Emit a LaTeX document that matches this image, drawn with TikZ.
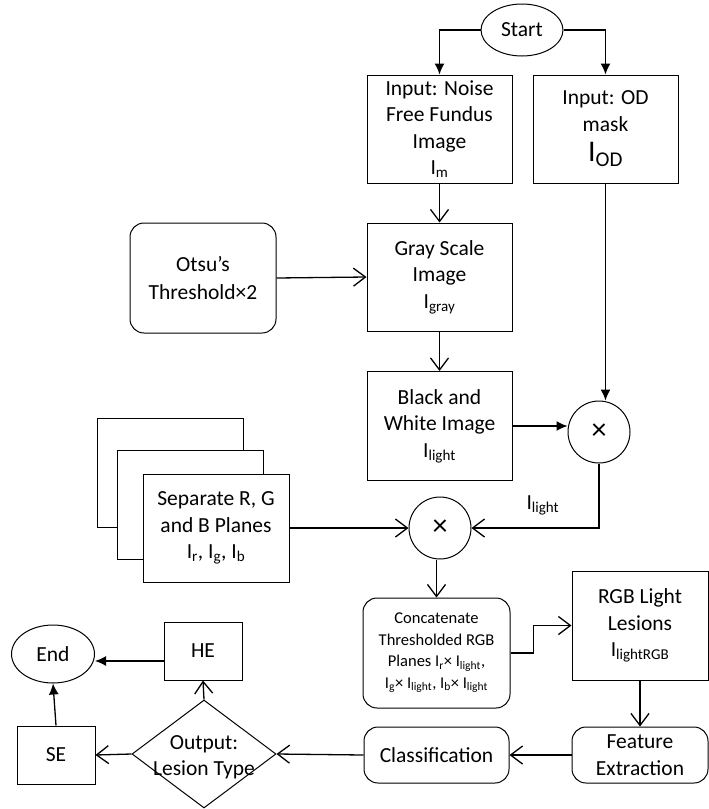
\documentclass[tikz,border=0pt]{standalone}
\usepackage{fontspec}
\setmainfont{Carlito}
\usetikzlibrary{shapes.geometric,arrows.meta,calc}
\newcommand\sbs[1]{\textsubscript{#1}}

\begin{document}
\begin{tikzpicture}[x=1pt,y=-1pt,
  every node/.style={font=\fontsize{21.5}{26.5}\selectfont, align=center, inner sep=0pt},
  box/.style={draw, line width=1pt, fill=white, minimum width=145pt, minimum height=108pt},
  rbox/.style={box, rounded corners=14pt},
  small/.style={minimum width=78pt, minimum height=58pt},
  oval/.style={draw, line width=1pt, ellipse},
  mult/.style={draw, line width=1pt, circle, minimum size=62pt, font=\fontsize{30}{30}\selectfont},
  flow/.style={line width=1.3pt, -{Straight Barb[length=12pt,width=18pt,line width=1.3pt]}},
  flowfill/.style={line width=1.3pt, -{Latex[length=11pt,width=10pt]}}]
\useasboundingbox (0,0) rectangle (709,809);

% top row
\node[oval, minimum width=82pt, minimum height=52pt] (start) at (522,30) {Start};
\node[box] (in1) at (439.5,129) {Input: Noise\\Free Fundus\\Image\\I\sbs{m}};
\node[box] (od) at (605.5,129) {Input: OD\\mask\\[4pt]{\fontsize{30}{30}\selectfont I\sbs{OD}}};

% gray scale and thresholds
\node[rbox, minimum width=146pt, minimum height=110pt, font=\fontsize{21.5}{28}\selectfont] (otsu) at (203,278) {Otsu’s\\Threshold×2};
\node[box] (gray) at (439.5,277) {Gray Scale\\Image\\I\sbs{gray}};
\node[box, minimum height=109pt] (bw) at (439.5,426) {Black and\\White Image\\I\sbs{light}};
\node[mult] (m1) at (599,432) {×};

% stacked colour planes
\node[box, minimum width=146pt, minimum height=109pt] (planeB) at (170,473) {};
\node[box, minimum width=146pt, minimum height=109pt] (planeG) at (190,504.5) {};
\node[box, minimum width=146pt] (planes) at (216,528) {Separate R, G\\and B Planes\\I\sbs{r}, I\sbs{g}, I\sbs{b}};
\node[mult] (m2) at (440,528) {×};

% light lesions
\node[rbox, minimum width=147pt, minimum height=110pt, font=\fontsize{16.5}{21.5}\selectfont] (concat) at (436.5,653)
  {Concatenate\\Thresholded RGB\\Planes I\sbs{r}× I\sbs{light},\\I\sbs{g}× I\sbs{light}, I\sbs{b}× I\sbs{light}};
\node[box, minimum width=136pt, minimum height=109pt] (rgb) at (640,625.5) {RGB Light\\Lesions\\I\sbs{lightRGB}};
\node[rbox, minimum width=136pt, minimum height=56pt] (feat) at (640,755) {Feature\\Extraction};
\node[rbox, minimum width=145pt, minimum height=56pt] (class) at (436.5,755) {Classification};

% decision and outcomes
\node[draw, line width=1pt, diamond, minimum width=144pt, minimum height=108pt] (dia) at (204,754) {};
\node (diatext) at (204,757) {Output:\\Lesion Type};
\node[box, small] (se) at (56,755) {SE};
\node[box, small] (he) at (203,651) {HE};
\node[oval, minimum width=83pt, minimum height=58pt] (end) at (53,654) {End};

% connectors
\draw[flowfill] (start.west) -| (in1.north);
\draw[flowfill] (start.east) -| (od.north);
\draw[flow] (in1.south) -- (gray.north);
\draw[flow] (otsu.east) -- (gray.west);
\draw[flow] (gray.south) -- (bw.north);
\draw[flowfill] (od.south) -- (od.south |- m1.north);
\draw[flowfill] (bw.east) -- (bw.east -| m1.west);
\draw[flow] (m1.south) |- (m2.east) node[pos=0.72, above=12pt] (lbl) {I\sbs{light}};
\draw[flow] (planes.east) -- (m2.west);
\draw[flow] (concat.north |- m2.south) -- (concat.north);
\draw[flow] (concat.east) -- ++(23,0) |- (rgb.west);
\draw[flow] (rgb.south) -- (feat.north);
\draw[flow] (feat.west) -- (class.east);
\draw[flow] (class.west) -- (dia.east);
\draw[flow] (dia.west) -- (se.east);
\draw[flow] (dia.north) -- (he.south);
\draw[flowfill] (se.north) -- (end.south);
\draw[flowfill] ([yshift=-10pt]he.west) -- ([yshift=-10pt]he.west -| end.east);
\end{tikzpicture}
\end{document}
